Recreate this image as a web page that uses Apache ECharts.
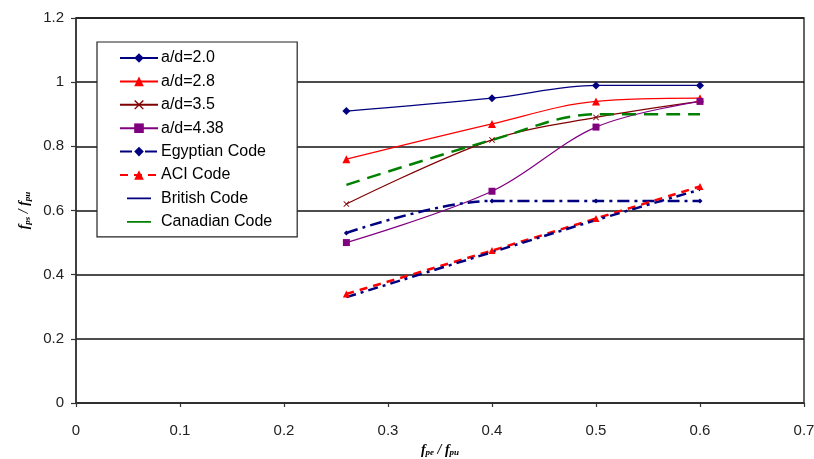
<!DOCTYPE html>
<html>
<head>
<meta charset="utf-8">
<script src="https://cdn.jsdelivr.net/npm/echarts@6/dist/echarts.min.js"></script>
<style>html,body{margin:0;padding:0;background:#fff;}#c{width:814px;height:459px;}</style>
</head>
<body>
<div id="c"></div>
<script>
const xValues = [0.26, 0.4, 0.5, 0.6];
const ad20 = [0.91, 0.95, 0.99, 0.99];
const ad28 = [0.76, 0.87, 0.94, 0.95];
const ad35 = [0.62, 0.82, 0.89, 0.94];
const ad438 = [0.50, 0.66, 0.86, 0.94];
const egyptian = [0.53, 0.63, 0.63, 0.63];
const aci = [0.34, 0.475, 0.575, 0.675];
const british = [0.33, 0.47, 0.57, 0.665];
const canadian = [0.68, 0.82, 0.90, 0.90];
const xTicks = [0, 0.1, 0.2, 0.3, 0.4, 0.5, 0.6, 0.7];
const yTicks = [0, 0.2, 0.4, 0.6, 0.8, 1, 1.2];

const pair = arr => xValues.map((x, i) => [x, arr[i]]);
const crossPath = 'path://M0,1L1,0L5,4L9,0L10,1L6,5L10,9L9,10L5,6L1,10L0,9L4,5Z';
const lineIcon = 'path://M0,0H0.01V0.01H0ZM0,8.5H40V11.5H0ZM0,20H0.01V20.01H0Z';
const sm = 0.35;

const chart = echarts.init(document.getElementById('c'), null, {renderer: 'canvas'});
const font = '"Liberation Sans", Arial, sans-serif';
const nameRich = {
  f: {fontStyle: 'italic', fontWeight: 'bold', fontFamily: 'Liberation Serif', fontSize: 14, color: '#000'},
  s: {fontStyle: 'italic', fontWeight: 'bold', fontFamily: 'Liberation Serif', fontSize: 9, color: '#000', verticalAlign: 'bottom', padding: [6, 0, 0, 0]}
};
chart.setOption({
  animation: false,
  textStyle: {fontFamily: font},
  grid: {left: 76, right: 10, top: 18, bottom: 56, outerBoundsMode: 'none', containLabel: false, show: true, borderColor: '#333', borderWidth: 1.5},
  legend: {
    orient: 'vertical', left: 97, top: 42,
    backgroundColor: '#fff', borderColor: '#222', borderWidth: 1.2,
    padding: [8, 25, 7, 22], itemGap: 7.4, itemWidth: 38, itemHeight: 12,
    textStyle: {fontSize: 16, color: '#000', fontFamily: font, padding: [0, 0, 0, -2]},
    data: ['a/d=2.0', 'a/d=2.8', 'a/d=3.5', 'a/d=4.38', 'Egyptian Code', 'ACI Code',
      {name: 'British Code', icon: lineIcon},
      {name: 'Canadian Code', icon: lineIcon}]
  },
  xAxis: {
    type: 'value', min: 0, max: 0.7, interval: 0.1,
    name: '{f|f}{s|pe}{f| / f}{s|pu}', nameLocation: 'middle', nameGap: 38,
    nameTextStyle: {rich: nameRich},
    axisLine: {lineStyle: {color: '#333', width: 1.5}},
    axisTick: {show: true, length: 4, lineStyle: {color: '#333', width: 1.2}},
    axisLabel: {fontSize: 15, color: '#222', margin: 20, formatter: v => String(xTicks.find(t => Math.abs(t - v) < 1e-9) ?? v)},
    splitLine: {show: false}
  },
  yAxis: {
    type: 'value', min: 0, max: 1.2, interval: 0.2,
    name: '{f|f}{s|ps}{f| / f}{s|pu}', nameLocation: 'middle', nameGap: 40, nameRotate: 90,
    nameTextStyle: {rich: nameRich},
    axisLine: {show: true, lineStyle: {color: '#333', width: 1.5}},
    axisTick: {show: true, length: 5, lineStyle: {color: '#333', width: 1.2}},
    axisLabel: {fontSize: 15, color: '#222', margin: 12, formatter: v => String(yTicks.find(t => Math.abs(t - v) < 1e-9) ?? v)},
    splitLine: {show: true, lineStyle: {color: '#111', width: 1.6}}
  },
  series: [
    {name: 'a/d=2.0', type: 'line', smooth: sm, data: pair(ad20), symbol: 'diamond', symbolSize: 8, itemStyle: {color: '#000080'}, lineStyle: {color: '#000080', width: 1.2}},
    {name: 'a/d=2.8', type: 'line', smooth: sm, data: pair(ad28), symbol: 'triangle', symbolSize: 8, itemStyle: {color: '#ff0000'}, lineStyle: {color: '#ff0000', width: 1.2}},
    {name: 'a/d=3.5', type: 'line', smooth: sm, data: pair(ad35), symbol: crossPath, symbolSize: 6, itemStyle: {color: '#800000'}, lineStyle: {color: '#800000', width: 1.2}},
    {name: 'a/d=4.38', type: 'line', smooth: sm, data: pair(ad438), symbol: 'rect', symbolSize: 7, itemStyle: {color: '#800080'}, lineStyle: {color: '#800080', width: 1.2}},
    {name: 'Egyptian Code', type: 'line', smooth: sm, data: pair(egyptian), symbol: 'diamond', symbolSize: 5, itemStyle: {color: '#000080'}, lineStyle: {color: '#000080', width: 2.5, type: [12, 5, 3, 5]}},
    {name: 'ACI Code', type: 'line', smooth: sm, data: pair(aci), symbol: 'triangle', symbolSize: 7, itemStyle: {color: '#ff0000'}, lineStyle: {color: '#ff0000', width: 2.5, type: [8, 6]}},
    {name: 'British Code', type: 'line', smooth: sm, data: pair(british), symbol: 'none', itemStyle: {color: '#000080'}, lineStyle: {color: '#000080', width: 2.5, type: [10, 5, 3, 5]}},
    {name: 'Canadian Code', type: 'line', smooth: sm, data: pair(canadian), symbol: 'none', itemStyle: {color: '#008000'}, lineStyle: {color: '#008000', width: 2.5, type: [14, 8]}}
  ]
});
</script>
</body>
</html>
